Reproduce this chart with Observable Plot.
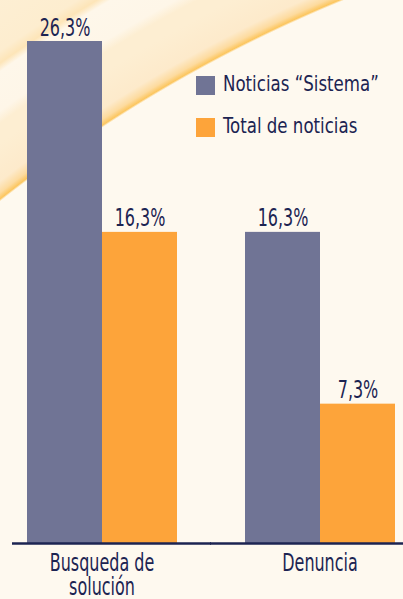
<!DOCTYPE html>
<html>
<head>
<meta charset="utf-8">
<script src="https://cdn.jsdelivr.net/npm/d3@7"></script>
<script src="https://cdn.jsdelivr.net/npm/@observablehq/plot@0.6"></script>
<style>
  html, body { margin: 0; padding: 0; }
  body { width: 403px; height: 599px; overflow: hidden; }
  #wrap {
    position: relative; width: 403px; height: 599px;
    background:
      radial-gradient(circle at 884px 1318px,
        #fef9ef 0px, #fef9ef 1424px,
        #fcc65f 1426px, #fddb9f 1431px, #fdeacb 1440px,
        #fdeed2 1470px, #fdeed2 1486px, #fef6e8 1496px,
        #fef7ea 1528px, #fde5b8 1535px, #fdedcf 1545px, #fdf0d6 1620px);
    font-family: "DejaVu Sans Condensed", sans-serif;
    color: #1c2452;
  }
  #legend { position: absolute; left: 196px; top: 76px; z-index: 2; }
  .item { position: relative; height: 19px; margin-bottom: 23px; white-space: nowrap; }
  .sw { position: absolute; left: 0; top: 0; width: 19px; height: 19px; }
  .lt { position: absolute; left: 27px; top: -5px; font-size: 22px; line-height: 26px;
        transform: scaleX(0.84); transform-origin: 0 0; }
  svg { position: absolute; left: 0; top: 0; }
</style>
</head>
<body>
<div id="wrap">
  <div id="legend"></div>
</div>
<script>
const categories = ["Busqueda de solución", "Denuncia"];
const tickLabels = ["Busqueda de\nsolución", "Denuncia"];
const series = ["Noticias “Sistema”", "Total de noticias"];
const sistemaValues = [26.3, 16.3];
const totalValues = [16.3, 7.3];
const colors = ["#707495", "#fda43a"];

const data = [];
categories.forEach((c, i) => {
  data.push({category: c, series: series[0], value: sistemaValues[i]});
  data.push({category: c, series: series[1], value: totalValues[i]});
});
const fmt = v => v.toFixed(1).replace(".", ",") + "%";

const chart = Plot.plot({
  width: 403,
  height: 599,
  marginTop: 41,
  marginBottom: 56,
  marginLeft: 12,
  marginRight: 0,
  style: {
    background: "transparent",
    fontFamily: '"DejaVu Sans Condensed", sans-serif',
    fontSize: "24px",
    color: "#1c2452",
    overflow: "visible"
  },
  fx: {domain: categories, paddingInner: 0.3066, paddingOuter: 0.048, align: 0.619, label: null, axis: null},
  x: {domain: series, padding: 0, axis: null},
  y: {domain: [0, 26.3], axis: null},
  color: {domain: series, range: colors},
  marks: [
    Plot.barY(data, {fx: "category", x: "series", y: "value", fill: "series"}),
    Plot.text(data, {fx: "category", x: "series", y: "value", text: d => fmt(d.value), dy: -6, lineAnchor: "bottom", fontSize: 24, fill: "#1c2452"}),
    Plot.ruleY([0], {fx: [categories[0]], stroke: "#1c2452", strokeWidth: 2.5, insetLeft: -14, insetRight: -34}),
    Plot.ruleY([0], {fx: [categories[1]], stroke: "#1c2452", strokeWidth: 2.5, insetLeft: -34, insetRight: -9}),
    Plot.axisFx({anchor: "bottom", tickSize: 0, tickPadding: 10, fontSize: 25, lineHeight: 0.97, label: null, fill: "#1c2452",
      tickFormat: d => tickLabels[categories.indexOf(d)]})
  ]
});
const wrap = document.getElementById("wrap");
wrap.appendChild(chart);

// condense text horizontally (reference uses a condensed face)
chart.querySelectorAll("text").forEach(t => {
  const fs = parseFloat(t.getAttribute("font-size") || getComputedStyle(t).fontSize);
  const squeeze = fs >= 25 ? 0.71 : 0.74;
  const tspans = t.querySelectorAll("tspan");
  const targets = tspans.length ? Array.from(tspans) : [t];
  targets.forEach(el => {
    const L = el.getComputedTextLength();
    el.setAttribute("textLength", L * squeeze);
    el.setAttribute("lengthAdjust", "spacingAndGlyphs");
  });
});

const legend = document.getElementById("legend");
series.forEach((s, i) => {
  const item = document.createElement("div");
  item.className = "item";
  const sw = document.createElement("span");
  sw.className = "sw";
  sw.style.background = colors[i];
  const t = document.createElement("span");
  t.className = "lt";
  t.textContent = s;
  item.appendChild(sw);
  item.appendChild(t);
  legend.appendChild(item);
});
</script>
</body>
</html>
